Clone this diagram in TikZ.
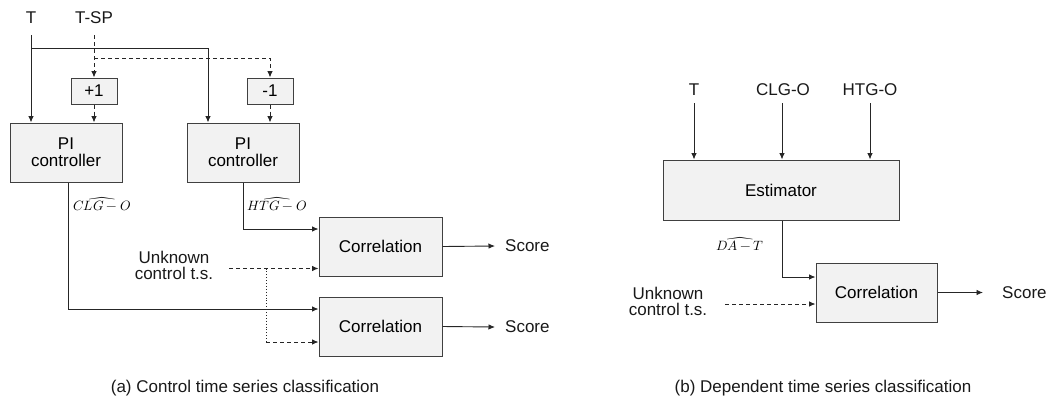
\documentclass[tikz,border=0pt]{standalone}
\usepackage{unicode-math}
\setmainfont{Liberation Sans}
\setmathfont{Latin Modern Math}
\usetikzlibrary{arrows.meta}
\begin{document}
\begin{tikzpicture}[x=1pt,y=-1pt,
  txt/.style={font=\fontsize{17}{16}\selectfont, inner sep=0pt, align=center, text=black!90},
  blk/.style={draw=black!75, fill=black!5, line width=1pt, inner sep=0pt, font=\fontsize{17}{17}\selectfont, align=center},
  hatlbl/.style={font=\fontsize{13.5}{14}\selectfont, inner sep=0pt},
  conn/.style={line width=0.9pt, draw=black!85, -{Latex[length=6.5pt,width=5.5pt]}},
  dconn/.style={conn, dash pattern=on 4pt off 3pt},
  plain/.style={line width=0.9pt, draw=black!85}
]
\useasboundingbox (0,0) rectangle (1048,400);

% ---------- panel (a) ----------
\node[txt] (T) at (31,18) {T};
\node[txt] (TSP) at (94,18) {T-SP};
\node[blk, minimum width=46pt, minimum height=26pt] (plus) at (94,91) {+1};
\node[blk, minimum width=46pt, minimum height=26pt] (minus) at (270,91) {-1};
\node[blk, minimum width=112pt, minimum height=59pt] (pi1) at (66,152.5) {PI\\controller};
\node[blk, minimum width=112pt, minimum height=59pt] (pi2) at (243,152.5) {PI\\controller};
\node[blk, minimum width=123pt, minimum height=59pt] (corr1) at (380.5,246.5) {Correlation};
\node[blk, minimum width=123pt, minimum height=59pt] (corr2) at (380.5,326.5) {Correlation};
\node[txt] (unk1) at (174,265) {Unknown\\control t.s.};
\node[txt, anchor=west] (score1) at (505,246) {Score};
\node[txt, anchor=west] (score2) at (505,327) {Score};
\node[hatlbl] (clg) at (102,204) {$\widehat{CLG-O}$};
\node[hatlbl] (htg) at (277,204) {$\widehat{HTG-O}$};
\node[txt] (capa) at (245,388) {(a) Control time series classification};

\coordinate (tstart) at (31,35);
\coordinate (j1) at (31,48);
\coordinate (spstart) at (94,35);
\coordinate (j2) at (94,58);
\coordinate (u1) at (229,268.5);
\coordinate (u2) at (266,268.5);
\coordinate (u3) at (266,342);

\draw[conn] (tstart) -- (tstart |- pi1.north);
\draw[conn] (j1) -| ([xshift=-35pt]pi2.north);
\draw[dconn] (spstart) -- (plus.north);
\draw[dconn] (j2) -| (minus.north);
\draw[dconn] (plus.south) -- (plus.south |- pi1.north);
\draw[dconn] (minus.south) -- (minus.south |- pi2.north);
\draw[conn] ([xshift=2pt]pi1.south) |- ([yshift=17.5pt]corr2.west);
\draw[conn] (pi2.south) |- ([yshift=17.5pt]corr1.west);
\draw[dconn] (u1) -- (u1 -| corr1.west);
\draw[plain, dotted] (u2) -- (u3);
\draw[dconn] (u3) -- (u3 -| corr2.west);
\draw[conn] (corr1.east) -- ([xshift=-10pt]score1.west);
\draw[conn] (corr2.east) -- ([xshift=-10pt]score2.west);

% ---------- panel (b) ----------
\node[txt] (T2) at (694,90) {T};
\node[txt] (clgo) at (783,90) {CLG-O};
\node[txt] (htgo) at (870,90) {HTG-O};
\node[blk, minimum width=236pt, minimum height=60pt] (est) at (781,190) {Estimator};
\node[blk, minimum width=121pt, minimum height=59pt] (corr3) at (876.5,292.5) {Correlation};
\node[txt] (unk2) at (668,301) {Unknown\\control t.s.};
\node[txt, anchor=west] (score3) at (1002,292.5) {Score};
\node[hatlbl] (da) at (740,244) {$\widehat{DA-T}$};
\node[txt] (capb) at (823,388) {(b) Dependent time series classification};

\coordinate (v1) at (694,103);
\coordinate (v2) at (782,103);
\coordinate (v3) at (870,103);
\coordinate (u4) at (725,304);

\draw[conn] (v1) -- (v1 |- est.north);
\draw[conn] (v2) -- (v2 |- est.north);
\draw[conn] (v3) -- (v3 |- est.north);
\draw[conn] ([xshift=1pt]est.south) |- ([yshift=15.5pt]corr3.west);
\draw[dconn] (u4) -- (u4 -| corr3.west);
\draw[conn] (corr3.east) -- ([xshift=-19pt]score3.west);
\end{tikzpicture}
\end{document}
